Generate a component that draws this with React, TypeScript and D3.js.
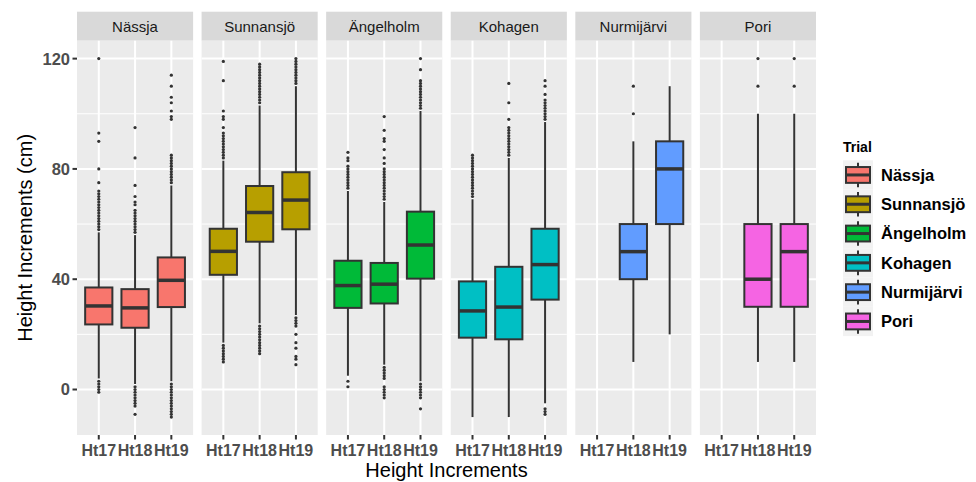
import React from "react";
import * as d3 from "d3";

const trials = ["Nässja", "Sunnansjö", "Ängelholm", "Kohagen", "Nurmijärvi", "Pori"];
const increments = ["Ht17", "Ht18", "Ht19"];
const trialColors = ["#F8766D", "#B79F00", "#00BA38", "#00BFC4", "#619CFF", "#F564E3"];
const yTicks = [0, 40, 80, 120];
const yMinor = [20, 60, 100];

// per trial: [Ht17, Ht18, Ht19]; null = no data
const whiskerLow: (number | null)[][] = [
  [4, 2, 3], [17, 24, 27], [5, 9, 3], [-10, -10, -5], [null, 10, 20], [null, 10, 10],
];
const q1: (number | null)[][] = [
  [23.6, 22.4, 29.9], [41.6, 53.6, 58.1], [29.6, 31.2, 40.2], [18.8, 18.2, 32.6], [null, 40, 60], [null, 30, 30],
];
const median: (number | null)[][] = [
  [30.3, 29.6, 39.6], [50.1, 64.2, 68.7], [37.7, 38.2, 52.4], [28.5, 29.9, 45.3], [null, 50, 80], [null, 40, 50],
];
const q3: (number | null)[][] = [
  [37.0, 36.4, 47.9], [58.3, 73.8, 78.8], [46.7, 45.9, 64.5], [39.2, 44.5, 58.3], [null, 60, 90], [null, 60, 60],
];
const whiskerHigh: (number | null)[][] = [
  [57, 56, 74], [83, 103, 110], [72, 68, 101], [69, 84, 97], [null, 90, 110], [null, 100, 100],
];
const outliers: number[][][] = [
  [
    [58, 59, 60, 61, 62, 63, 64, 65, 66, 67, 68, 69, 70, 71, 72, 75, 80, 90, 93, 120, 3, 2, 1, 0, -1],
    [57, 58, 59, 60, 61, 62, 63, 64, 65, 67, 68, 70, 74, 84, 95, 1, 0, -1, -2, -3, -4, -5, -6, -9],
    [75, 76, 77, 78, 79, 80, 81, 82, 83, 84, 85, 98, 99, 101, 104, 106, 110, 114, 2, 1, 0, -1, -2, -3, -4, -5, -6, -7, -8, -9, -10],
  ],
  [
    [84, 85, 86, 87, 88, 89, 90, 91, 92, 93, 95, 98, 99, 101, 112, 119, 16, 15, 14, 13, 12, 11, 10],
    [104, 105, 106, 107, 108, 109, 110, 111, 112, 113, 114, 115, 116, 117, 118, 23, 22, 21, 20, 19, 18, 17, 16, 15, 14, 13],
    [111, 112, 113, 114, 115, 116, 117, 118, 119, 120, 26, 25, 24, 23, 20, 17, 15, 12, 11, 9],
  ],
  [
    [73, 74, 75, 76, 77, 78, 79, 80, 81, 83, 84, 86, 3, 1],
    [69, 70, 71, 72, 73, 74, 75, 76, 77, 78, 79, 80, 82, 84, 87, 90, 91, 94, 99, 8, 7, 6, 5, 4, 1, 0, -1, -2, -3],
    [102, 103, 104, 105, 106, 107, 108, 109, 110, 111, 112, 116, 120, 2, 1, 0, -1, -2, -3, -7],
  ],
  [
    [70, 71, 72, 73, 74, 75, 76, 77, 78, 79, 80, 81, 82, 83, 84, 85],
    [85, 86, 87, 88, 89, 90, 91, 92, 93, 94, 95, 98, 104, 111],
    [98, 99, 100, 101, 102, 103, 104, 105, 107, 110, 112, -7, -8, -9],
  ],
  [[], [100, 110], []],
  [[], [110, 120], [110, 120]],
];

const FONT = "'Liberation Sans', Arial, Helvetica, sans-serif";
const W = 976;
const H = 482;

export default function App() {
  const panelLeft = 77;
  const panelRight = 816;
  const panelTop = 40.7;
  const panelBottom = 435;
  const stripTop = 11.7;

  const fx = d3.scaleBand<string>().domain(trials).range([panelLeft, panelRight]).paddingInner(0.068).paddingOuter(0);
  const pw = fx.bandwidth();
  const x = d3.scalePoint<string>().domain(increments).range([0, pw]).padding(0.6);
  const step = x.step();
  const boxW = step * 0.75;
  const y = d3.scaleLinear().domain([-16.5, 126.5]).range([panelBottom, panelTop]);

  const legendX = 843;
  const keyW = 30;
  const keyH = 29.3;
  const legendTop = 160.3;

  return (
    <svg width={W} height={H} style={{ position: "absolute", left: 0, top: 0, background: "#fff" }} fontFamily={FONT}>
      <rect x={0} y={0} width={W} height={H} fill="#fff" />
      {trials.map((t, ti) => {
        const px = fx(t)!;
        return (
          <g key={t}>
            <rect x={px} y={stripTop} width={pw} height={panelTop - stripTop} fill="#D9D9D9" />
            <text x={px + pw / 2} y={32} textAnchor="middle" fontSize={15} fill="#1A1A1A">{t}</text>
            <rect x={px} y={panelTop} width={pw} height={panelBottom - panelTop} fill="#EBEBEB" />
            {yMinor.map((v) => (
              <line key={"mi" + v} x1={px} x2={px + pw} y1={y(v)} y2={y(v)} stroke="#fff" strokeWidth={1} />
            ))}
            {yTicks.map((v) => (
              <line key={"ma" + v} x1={px} x2={px + pw} y1={y(v)} y2={y(v)} stroke="#fff" strokeWidth={2} />
            ))}
            {increments.map((inc) => (
              <line key={"v" + inc} x1={px + x(inc)!} x2={px + x(inc)!} y1={panelTop} y2={panelBottom} stroke="#fff" strokeWidth={2} />
            ))}
            {increments.map((inc, ii) => {
              const cx = px + x(inc)!;
              const lo = whiskerLow[ti][ii];
              if (lo === null) return null;
              const a = q1[ti][ii]!;
              const m = median[ti][ii]!;
              const b = q3[ti][ii]!;
              const hi = whiskerHigh[ti][ii]!;
              return (
                <g key={"b" + inc}>
                  <line x1={cx} x2={cx} y1={y(hi)} y2={y(b)} stroke="#333333" strokeWidth={2} />
                  <line x1={cx} x2={cx} y1={y(a)} y2={y(lo)} stroke="#333333" strokeWidth={2} />
                  <rect x={cx - boxW / 2} y={y(b)} width={boxW} height={y(a) - y(b)} fill={trialColors[ti]} stroke="#333333" strokeWidth={2} />
                  <line x1={cx - boxW / 2} x2={cx + boxW / 2} y1={y(m)} y2={y(m)} stroke="#333333" strokeWidth={3.5} />
                  {outliers[ti][ii].map((v, k) => (
                    <circle key={k} cx={cx} cy={y(v)} r={1.6} fill="#333333" />
                  ))}
                </g>
              );
            })}
            {increments.map((inc) => (
              <g key={"xt" + inc}>
                <line x1={px + x(inc)!} x2={px + x(inc)!} y1={panelBottom} y2={panelBottom + 4.5} stroke="#333333" strokeWidth={2} />
                <text x={px + x(inc)!} y={456} textAnchor="middle" fontSize={16} fontWeight="bold" fill="#4D4D4D">{inc}</text>
              </g>
            ))}
          </g>
        );
      })}
      {yTicks.map((v) => (
        <g key={"yt" + v}>
          <line x1={panelLeft - 4.5} x2={panelLeft} y1={y(v)} y2={y(v)} stroke="#333333" strokeWidth={2} />
          <text x={70} y={y(v)} dy="0.36em" textAnchor="end" fontSize={16.5} fontWeight="bold" fill="#4D4D4D">{v}</text>
        </g>
      ))}
      <text transform={`translate(32,${(panelTop + panelBottom) / 2}) rotate(-90)`} textAnchor="middle" fontSize={20} fill="#000">Height Increments (cm)</text>
      <text x={(panelLeft + panelRight) / 2} y={477} textAnchor="middle" fontSize={20} fill="#000">Height Increments</text>
      <text x={legendX} y={151.5} fontSize={14} fontWeight="bold" fill="#000">Trial</text>
      {trials.map((t, i) => {
        const ky = legendTop + i * keyH;
        const cx = legendX + keyW / 2;
        const bx1 = legendX + 3;
        const bx2 = legendX + keyW - 3;
        const by1 = ky + keyH * 0.23;
        const by2 = ky + keyH * 0.77;
        return (
          <g key={"lg" + t}>
            <rect x={legendX} y={ky} width={keyW} height={keyH} fill="#F2F2F2" />
            <line x1={cx} x2={cx} y1={ky + keyH * 0.08} y2={ky + keyH * 0.92} stroke="#333333" strokeWidth={2} />
            <rect x={bx1} y={by1} width={bx2 - bx1} height={by2 - by1} fill={trialColors[i]} stroke="#333333" strokeWidth={2} />
            <line x1={bx1} x2={bx2} y1={(by1 + by2) / 2} y2={(by1 + by2) / 2} stroke="#333333" strokeWidth={3} />
            <text x={881} y={ky + keyH / 2} dy="0.36em" fontSize={16.5} fontWeight="bold" fill="#000">{t}</text>
          </g>
        );
      })}
    </svg>
  );
}
